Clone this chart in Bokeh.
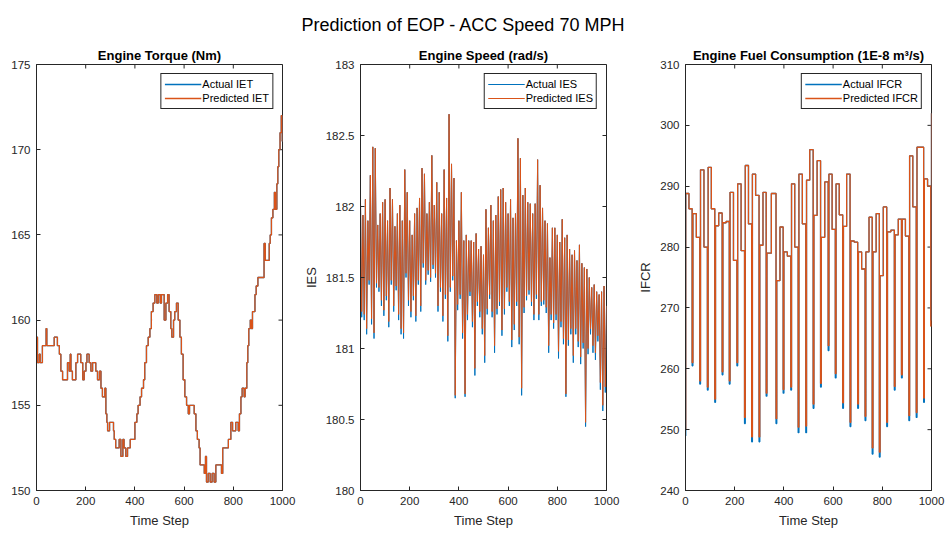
from bokeh.plotting import figure
from bokeh.models import Range1d, FixedTicker, Div, Legend, LegendItem
from bokeh.layouts import row, column
from bokeh.embed import file_html
from bokeh.resources import INLINE

FONT = "Liberation Sans"
BLUE = "#0072BD"
ORANGE = "#D95319"
AX = "#262626"

SUPTITLE = "Prediction of EOP - ACC Speed 70 MPH"
x_ticks = [0, 200, 400, 600, 800, 1000]

# ---------------- Engine torque (step changes: step, value) ----------------
torque_steps = [0, 4, 11, 15, 24, 39, 42, 72, 85, 93, 99, 106, 126, 133, 137, 140, 146, 160, 167,
                180, 188, 194, 201, 205, 214, 221, 228, 241, 248, 256, 262, 268, 278, 282, 286,
                289, 297, 306, 313, 316, 322, 336, 343, 351, 356, 363, 370, 381, 397, 400, 408,
                413, 421, 427, 435, 440, 447, 454, 461, 467, 474, 481, 489, 495, 503, 508, 519,
                526, 533, 539, 546, 550, 557, 562, 569, 576, 583, 589, 596, 603, 610, 617, 622,
                641, 648, 654, 661, 665, 682, 687, 691, 698, 706, 714, 722, 729, 752, 757, 780,
                790, 797, 810, 820, 825, 831, 836, 844, 848, 855, 859, 863, 869, 874, 878, 888,
                893, 900, 925, 930, 946, 950, 955, 961, 967, 971, 977, 981, 985, 990, 995, 999, 1000]
torque_actual = [159, 157.5, 158, 157.5, 158.5, 159.5, 158.5, 159, 158.5, 158, 157, 156.5, 157.5, 157,
                 158, 157, 156.5, 157.5, 158, 157.5, 156.5, 157, 157.5, 158, 157.5, 157, 157.5, 157,
                 156.5, 157, 156, 155.5, 156, 154.5, 154, 153.5, 154, 154, 153.5, 153, 152.5, 153,
                 152, 153, 152.5, 152, 152.5, 153, 153, 154, 154.5, 155, 155.5, 156, 156.5, 157.5,
                 158.5, 159, 159.5, 160.5, 161, 161.5, 161, 161.5, 161, 161.5, 160, 161, 161.5,
                 160.5, 159.5, 159, 160, 160.5, 161, 160, 159, 158, 156.5, 155.5, 155, 154.5, 155,
                 154.5, 153.5, 153, 152.5, 151.5, 151, 152, 150.5, 151, 150.5, 151, 150.5, 151.5,
                 151, 152.5, 153, 154, 153.5, 154, 153.5, 154.5, 155.5, 156, 155.5, 156, 157.5,
                 158.5, 159.5, 160, 159.5, 160.5, 161.5, 162, 162.5, 164.5, 163.5, 164.5, 165, 166,
                 166.5, 167.5, 166.5, 168, 169, 170, 171, 172, 170.5, 172]
torque_pred = list(torque_actual)

# ---------------- Engine speed (highs at 0,10,..,1000; lows at 5,15,..,995) ----------------
speed_high = [182.03, 181.94, 182.05, 181.9, 182.22, 182.42, 182.41, 181.87, 181.95, 182.03,
              182.05, 181.9, 182.13, 182.05, 181.86, 181.95, 182.01, 181.9, 182.26, 182.1,
              181.9, 181.8, 181.95, 181.99, 182.06, 182.27, 182.23, 181.95, 182.03, 182.36,
              182.01, 182.17, 182.1, 181.95, 182.26, 182.06, 182.65, 182.3, 182.2, 181.76,
              181.9, 182.1, 181.76, 181.8, 181.76, 181.76, 181.75, 181.81, 181.7, 181.72,
              181.66, 181.98, 181.85, 182.01, 181.9, 181.94, 182.07, 182.12, 182.13, 182.03,
              181.95, 182.05, 181.92, 181.95, 182.48, 182.34, 182.08, 182.13, 182.03, 182.02,
              181.95, 182.02, 182.33, 182.15, 181.99, 181.9, 181.88, 181.64, 181.85, 181.85,
              181.8, 181.75, 181.91, 181.78, 181.8, 181.7, 181.66, 181.69, 181.62, 181.73,
              181.6, 181.57, 181.56, 181.5, 181.43, 181.45, 181.4, 181.38, 181.4, 181.44, 181.3]
speed_low_actual = [181.22, 181.2, 181.1, 181.45, 181.17, 181.07, 181.43, 181.4, 181.3, 181.23,
                    181.34, 181.15, 181.45, 181.26, 181.41, 181.2, 181.1, 181.07, 181.5, 181.3,
                    181.22, 181.34, 181.19, 181.45, 181.26, 181.57, 181.45, 181.52, 181.47, 181.56,
                    181.5, 181.26, 181.4, 181.19, 181.35, 181.05, 181.4, 181.48, 180.65, 181.27,
                    181.35, 181.07, 180.66, 181.2, 181.37, 181.15, 180.81, 181.3, 181.22, 181.1,
                    180.9, 181.24, 181.35, 181.22, 180.97, 181.24, 181.3, 181.09, 181.24, 181.4,
                    181.3, 181.01, 181.13, 181.3, 181.03, 180.67, 181.25, 181.34, 181.38, 181.3,
                    181.2, 181.35, 181.2, 181.3, 181.31, 181.25, 180.97, 181.2, 181.14, 181.2,
                    180.93, 181.15, 181.03, 180.66, 181.02, 181.1, 180.9, 181.1, 181.01, 180.89,
                    181.0, 180.45, 180.96, 181.1, 180.97, 180.92, 181.05, 180.71, 180.56, 180.69]
speed_low_pred = [181.26, 181.24, 181.14, 181.48, 181.21, 181.11, 181.46, 181.43, 181.34, 181.27,
                  181.37, 181.19, 181.48, 181.3, 181.44, 181.24, 181.14, 181.11, 181.53, 181.34,
                  181.26, 181.37, 181.23, 181.48, 181.3, 181.6, 181.48, 181.55, 181.5, 181.59,
                  181.53, 181.3, 181.43, 181.23, 181.38, 181.09, 181.43, 181.51, 180.67, 181.31,
                  181.38, 181.11, 180.68, 181.24, 181.4, 181.19, 180.86, 181.33, 181.26, 181.14,
                  180.95, 181.28, 181.38, 181.26, 181.02, 181.28, 181.33, 181.13, 181.28, 181.43,
                  181.33, 181.06, 181.17, 181.33, 181.08, 180.72, 181.29, 181.37, 181.41, 181.33,
                  181.24, 181.38, 181.24, 181.33, 181.34, 181.29, 181.02, 181.24, 181.18, 181.24,
                  180.98, 181.19, 181.07, 180.68, 181.06, 181.14, 180.95, 181.14, 181.05, 180.94,
                  181.04, 180.48, 181.0, 181.14, 181.02, 180.97, 181.09, 180.76, 180.6, 180.73]

# ---------------- Engine fuel consumption (cycles between dips) ----------------
fuel_start_actual = 249.0
fuel_start_pred = 250.0
fuel_dip_steps = [27, 58, 89, 119, 149, 178, 209, 240, 269, 299, 328, 368, 397, 428, 458, 489, 519,
                  549, 580, 609, 639, 669, 700, 730, 759, 788, 818, 849, 878, 908, 938, 968, 997]
fuel_low_actual = [260.5, 257.5, 256.5, 254.5, 259, 257.5, 260.5, 251, 248, 248, 255.5, 251, 256,
                   256.5, 249.5, 249.5, 253.5, 257, 263, 258.5, 253.5, 250.5, 253.5, 251.5, 246,
                   245.5, 250.5, 256.5, 258.5, 251.5, 252, 254.5, 268]
fuel_low_pred = [261, 258, 257, 255, 259.5, 258, 261, 252, 248.8, 248.8, 256, 251.8, 256.6,
                 257, 250.4, 250.6, 254.2, 257.6, 263.8, 259.2, 254.4, 251.2, 254.2, 252.2, 247,
                 246.3, 251.2, 257.1, 259, 252.3, 252.8, 255.2, 267]
fuel_high_first = [288.8, 285.5, 292.7, 293.1, 283.5, 284, 289, 290.4, 293.4, 292, 280.3, 279,
                   274.5, 279.2, 290.4, 292, 291, 285.2, 281.6, 292, 290.4, 283.4, 281, 279.2,
                   279.2, 279.2, 275.3, 282.5, 282, 284.6, 295, 296.4, 291.2, 302]
fuel_high_second = [286.3, 281.6, 280, 286.3, 285.6, 284.2, 277.8, 279.4, 283.8, 288.5, 289, 288.8,
                    283.3, 278.5, 280, 283.8, 296, 294.2, 290.7, 282.9, 285.3, 292, 280.8, 276.4,
                    284.9, 285.5, 286.6, 282.8, 284.6, 281.8, 286.6, 296.4, 290, 302]


def fuel_series(start, lows):
    xs, ys = [0], [start]
    s0 = 1
    for k in range(len(fuel_high_first)):
        end = fuel_dip_steps[k] if k < len(fuel_dip_steps) else 1000
        mid = (s0 + end) // 2
        xs += [s0, mid]
        ys += [fuel_high_first[k], fuel_high_second[k]]
        if k < len(fuel_dip_steps):
            xs.append(end)
            ys.append(lows[k])
            s0 = end + 3
    xs.append(1000)
    ys.append(fuel_high_second[-1])
    return xs, ys


def speed_series(lows):
    xs, ys = [], []
    for i, h in enumerate(speed_high):
        xs.append(i * 10)
        ys.append(h)
        if i < len(lows):
            xs.append(i * 10 + 5)
            ys.append(lows[i])
    return xs, ys


FRAME_H = 426
FRAME_W = 246
TICK_PX = 4


def style_axis(ax):
    ax.axis_line_color = AX
    ax.major_tick_line_color = AX
    ax.minor_tick_line_color = None
    ax.major_tick_in = TICK_PX
    ax.major_tick_out = 0
    ax.major_label_text_font = FONT
    ax.major_label_text_color = AX
    ax.major_label_text_font_size = "11.5px"
    ax.major_label_standoff = 6
    ax.axis_label_text_font = FONT
    ax.axis_label_text_font_size = "13px"
    ax.axis_label_text_font_style = "normal"
    ax.axis_label_text_color = AX


def make_panel(title, ylabel, yr, yticks, width, left, right, tag, xa, ya, xp, yp, step):
    p = figure(width=width, height=494, x_range=Range1d(0, 1000), y_range=Range1d(*yr),
               output_backend="svg", toolbar_location=None,
               min_border_left=left, min_border_right=right, min_border_top=24, min_border_bottom=44)
    p.title.text = title
    p.title.text_font = FONT
    p.title.text_font_size = "13px"
    p.title.text_font_style = "bold"
    p.title.text_color = "#000000"
    p.title.align = "center"
    p.title.standoff = 4
    p.xgrid.visible = False
    p.ygrid.visible = False
    p.outline_line_color = AX
    p.outline_line_alpha = 1
    p.background_fill_color = "white"
    p.border_fill_color = "white"

    xax = p.xaxis[0]
    xax.ticker = FixedTicker(ticks=x_ticks)
    xax.axis_label = "Time Step"
    xax.axis_label_standoff = 5
    style_axis(xax)
    yax = p.yaxis[0]
    yax.ticker = FixedTicker(ticks=yticks)
    yax.major_label_overrides = {t: ("%g" % t) for t in yticks}
    if ylabel:
        yax.axis_label = ylabel
        yax.axis_label_standoff = 4
    style_axis(yax)

    # inward tick marks on the top and right edges of the box (MATLAB style)
    y0, y1 = yr
    dy = TICK_PX * (y1 - y0) / FRAME_H
    dx = TICK_PX * 1000.0 / FRAME_W
    p.segment(x0=x_ticks, y0=[y1] * len(x_ticks), x1=x_ticks, y1=[y1 - dy] * len(x_ticks),
              line_color=AX, line_width=1)
    p.segment(x0=[1000] * len(yticks), y0=yticks, x1=[1000 - dx] * len(yticks), y1=yticks,
              line_color=AX, line_width=1)

    if step:
        ra = p.step(xa, ya, mode="after", line_color=BLUE, line_width=1.3)
        rp = p.step(xp, yp, mode="after", line_color=ORANGE, line_width=1.3)
    else:
        ra = p.line(xa, ya, line_color=BLUE, line_width=1.0)
        rp = p.line(xp, yp, line_color=ORANGE, line_width=1.0)

    legend = Legend(items=[LegendItem(label="Actual " + tag, renderers=[ra]),
                           LegendItem(label="Predicted " + tag, renderers=[rp])],
                    location="top_right")
    legend.label_text_font = FONT
    legend.label_text_font_size = "11px"
    legend.label_text_color = "#000000"
    legend.border_line_color = AX
    legend.border_line_width = 1
    legend.border_line_alpha = 1
    legend.background_fill_color = "white"
    legend.background_fill_alpha = 1
    legend.glyph_width = 37
    legend.glyph_height = 14
    legend.label_height = 14
    legend.label_standoff = 1
    legend.padding = 3
    legend.spacing = 0
    legend.margin = 9
    p.add_layout(legend, "center")
    return p


tx = torque_steps
f1 = make_panel("Engine Torque (Nm)", None, (150, 175), [150, 155, 160, 165, 170, 175],
                298, 36, 16, "IET", tx, torque_actual, tx, torque_pred, True)

sxa, sya = speed_series(speed_low_actual)
sxp, syp = speed_series(speed_low_pred)
f2 = make_panel("Engine Speed (rad/s)", "IES", (180, 183), [180, 180.5, 181, 181.5, 182, 182.5, 183],
                325, 62, 17, "IES", sxa, sya, sxp, syp, False)

fxa, fya = fuel_series(fuel_start_actual, fuel_low_actual)
fxp, fyp = fuel_series(fuel_start_pred, fuel_low_pred)
f3 = make_panel("Engine Fuel Consumption (1E-8 m\u00b3/s)", "IFCR", (240, 310),
                [240, 250, 260, 270, 280, 290, 300, 310],
                325, 62, 17, "IFCR", fxa, fya, fxp, fyp, True)

head = Div(text='<div style="width:926px;text-align:center;font-family:\'Liberation Sans\';'
                'font-size:18px;color:#000;padding-top:13px;">' + SUPTITLE + '</div>',
           width=948, height=40, margin=(0, 0, 0, 0))

layout = column(head, row(f1, f2, f3, spacing=0), spacing=0)
with open("out.html", "w") as fh:
    fh.write(file_html(layout, INLINE))
